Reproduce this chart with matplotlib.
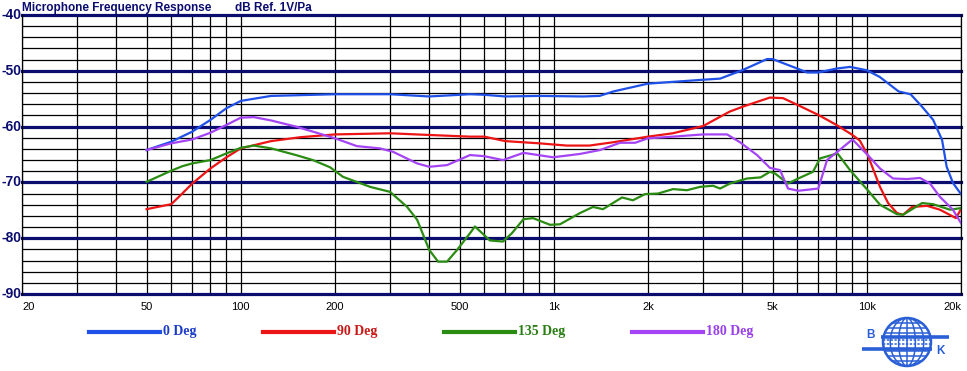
import numpy as np
import matplotlib.pyplot as plt
from matplotlib.patches import Circle, Ellipse

# measured responses, dB ref 1V/Pa
f_0 = [50, 60, 70, 80, 90, 100, 125, 200, 300, 400, 540, 600, 700, 900, 1240, 1400, 1550,
       2000, 3000, 3400, 4000, 4800, 5000, 6000, 6450, 7000, 8000, 8840, 10000, 11000,
       12640, 13800, 15000, 16300, 17400, 18000, 18850, 20000]
db_0 = [-64.2, -62.7, -60.9, -58.8, -56.7, -55.4, -54.5, -54.2, -54.2, -54.6, -54.2, -54.3,
        -54.6, -54.5, -54.6, -54.5, -53.7, -52.3, -51.6, -51.4, -49.9, -47.9, -47.9, -49.6,
        -50.3, -50.3, -49.6, -49.3, -49.9, -51.1, -53.7, -54.2, -56.4, -58.8, -62.4, -67.2,
        -70.1, -72.1]

f_90 = [50, 60, 65, 70, 80, 90, 100, 125, 155, 200, 300, 400, 540, 600, 700, 900, 1100,
        1300, 1550, 2000, 2400, 3000, 3650, 4030, 4900, 5400, 6000, 7000, 8000, 9000, 9500,
        10070, 11020, 11700, 12490, 13060, 13950, 15580, 17140, 19270, 20000]
db_90 = [-74.8, -73.9, -72.0, -70.2, -67.5, -65.5, -63.9, -62.6, -61.9, -61.4, -61.2, -61.5,
         -61.8, -61.8, -62.6, -63.0, -63.4, -63.4, -62.8, -61.8, -61.2, -59.9, -57.3, -56.4,
         -54.8, -54.9, -56.1, -57.9, -59.7, -61.5, -62.5, -65.1, -70.8, -73.7, -75.5, -75.8,
         -74.4, -74.2, -74.9, -76.4, -74.8]

f_135 = [50, 60, 65, 70, 80, 90, 100, 110, 125, 150, 170, 193, 212, 259, 300, 340, 366, 400,
         427, 456, 491, 540, 560, 625, 688, 735, 800, 858, 973, 1047, 1212, 1334, 1436, 1652,
         1790, 1956, 2153, 2404, 2665, 2932, 3226, 3400, 3656, 4144, 4580, 4906, 5090, 5600,
         6040, 6733, 7088, 8060, 8840, 10070, 11020, 12490, 13060, 15020, 16270, 18460, 20000]
db_135 = [-69.9, -67.9, -67.1, -66.6, -66.0, -64.8, -63.8, -63.4, -63.9, -65.1, -66.0, -67.3,
          -69.0, -70.8, -71.7, -74.4, -76.7, -82.1, -84.2, -84.2, -82.1, -79.1, -77.9, -80.4,
          -80.6, -79.1, -76.6, -76.4, -77.6, -77.5, -75.5, -74.4, -74.8, -72.7, -73.2, -72.1,
          -72.0, -71.2, -71.4, -70.8, -70.6, -71.1, -70.2, -69.3, -69.1, -68.1, -68.4, -70.2,
          -69.3, -68.1, -65.7, -64.8, -67.8, -71.4, -74.0, -75.7, -75.8, -73.7, -73.9, -74.9,
          -74.6]

f_180 = [50, 60, 70, 80, 90, 100, 110, 125, 150, 170, 200, 235, 278, 306, 366, 400, 456, 540,
         600, 688, 800, 994, 1212, 1405, 1628, 1818, 2000, 2404, 3000, 3577, 3934, 4460, 4906,
         5282, 5603, 6040, 7000, 7464, 8060, 9000, 10070, 11020, 12130, 13450, 14790, 15920,
         17140, 18850, 20000]
db_180 = [-64.2, -63.0, -62.3, -61.1, -59.7, -58.4, -58.3, -58.9, -60.0, -60.9, -62.1, -63.5,
          -63.9, -64.5, -66.6, -67.2, -66.9, -65.1, -65.3, -66.0, -64.7, -65.5, -64.9, -64.2,
          -62.9, -62.9, -62.1, -61.8, -61.4, -61.4, -62.8, -65.1, -67.4, -67.8, -71.1, -71.5,
          -71.1, -66.0, -64.5, -62.3, -65.1, -67.5, -69.3, -69.4, -69.2, -70.2, -72.6, -74.9,
          -77.3]

series = [
    ('0 Deg', f_0, db_0, '#1f50e8', '#1a3cc8'),
    ('90 Deg', f_90, db_90, '#ec1414', '#c81818'),
    ('135 Deg', f_135, db_135, '#2a8c12', '#2a7e14'),
    ('180 Deg', f_180, db_180, '#a444f4', '#9a40e8'),
]

x_labels = [20, 50, 100, 200, 500, 1000, 2000, 5000, 10000, 20000]
x_text = ['20', '50', '100', '200', '500', '1k', '2k', '5k', '10k', '20k']
y_labels = [-40, -50, -60, -70, -80, -90]

navy = '#0a0c6e'
W, H = 967, 371

fig = plt.figure(figsize=(W / 100, H / 100), dpi=100)
fig.patch.set_facecolor('white')
ax = fig.add_axes([22 / W, 1 - 294 / H, (961 - 22) / W, (294 - 15) / H])
ax.set_xscale('log')
ax.set_xlim(20, 20000)
ax.set_ylim(-90, -40)

# grid
minor_x = [m * d for d in (10, 100, 1000, 10000) for m in range(1, 10) if 20 <= m * d <= 20000]
for fx in minor_x:
    ax.axvline(fx, color='black', lw=0.9, zorder=1)
for v in range(-90, -39, 2):
    if v % 10 == 0:
        ax.axhline(v, color=navy, lw=2.3, zorder=2, clip_on=False)
    else:
        ax.axhline(v, color='black', lw=0.9, zorder=1)

for name, f, db, c, tc in series:
    ax.plot(f, db, color=c, lw=1.6, zorder=3)

ax.set_xticks([])
ax.set_yticks([])
ax.minorticks_off()
for s in ['top', 'bottom']:
    ax.spines[s].set_visible(False)
for s in ['left', 'right']:
    ax.spines[s].set_color('black')
    ax.spines[s].set_linewidth(0.9)

# tick labels
xt = ax.get_xaxis_transform()
for i, (v, t) in enumerate(zip(x_labels, x_text)):
    ha = 'left' if i == 0 else ('right' if i == len(x_labels) - 1 else 'center')
    ax.text(v, -0.03, t, transform=xt, ha=ha, va='top', fontsize=8,
            family='Liberation Sans', color='black')
yt = ax.get_yaxis_transform()
for v in y_labels:
    ax.text(-0.001, v, str(v), transform=yt, ha='right', va='center', fontsize=10,
            family='Liberation Sans', fontweight='bold', color=navy)

fig.text(22 / W, 1 - 8 / H, 'Microphone Frequency Response', ha='left', va='center',
         fontsize=8.5, family='Liberation Sans', fontweight='bold', color=navy)
fig.text(235 / W, 1 - 8 / H, 'dB Ref. 1V/Pa', ha='left', va='center',
         fontsize=8.5, family='Liberation Sans', fontweight='bold', color=navy)

# legend
leg_x = [89, 263, 444, 632]
for (name, f, db, c, tc), lx in zip(series, leg_x):
    y = 1 - 332 / H
    fig.add_artist(plt.Line2D([lx / W, (lx + 71) / W], [y, y], color=c, lw=3))
    fig.text((lx + 74) / W, y, name, ha='left', va='center', fontsize=10,
             family='Liberation Serif', fontweight='bold', color=tc)

# B&K logo
lg = fig.add_axes([855 / W, 1 - 370 / H, 100 / W, 58 / H])
lg.set_xlim(855, 955)
lg.set_ylim(370, 312)
lg.axis('off')
blue = '#2a5fd6'
cx, cy, r = 907, 342, 24
lg.add_patch(Circle((cx, cy), r, fill=False, ec=blue, lw=1.8))
for k in (0.35, 0.7):
    lg.add_patch(Ellipse((cx, cy), 2 * r * k, 2 * r, fill=False, ec=blue, lw=1.1))
lg.plot([cx, cx], [cy - r, cy + r], color=blue, lw=1.1)
for dy in (-19, -14, -9, 9, 14, 19):
    half = np.sqrt(r ** 2 - dy ** 2)
    lg.plot([cx - half, cx + half], [cy + dy, cy + dy], color=blue, lw=1.1)
for dy in (-2, 2):
    half = np.sqrt(r ** 2 - dy ** 2)
    lg.plot([cx - half, cx + half], [cy + dy, cy + dy], color=blue, lw=1.1, ls=(0, (1.5, 1)))
lg.plot([881, 949], [337, 337], color=blue, lw=2.6, solid_capstyle='butt')
lg.plot([862, 932], [349, 349], color=blue, lw=2.6, solid_capstyle='butt')
lg.text(871, 341, 'B', ha='center', va='bottom', fontsize=8.5, fontweight='bold',
        family='Liberation Sans', color=blue)
lg.text(941, 345, 'K', ha='center', va='top', fontsize=8.5, fontweight='bold',
        family='Liberation Sans', color=blue)

fig.savefig('out.png', dpi=100)
